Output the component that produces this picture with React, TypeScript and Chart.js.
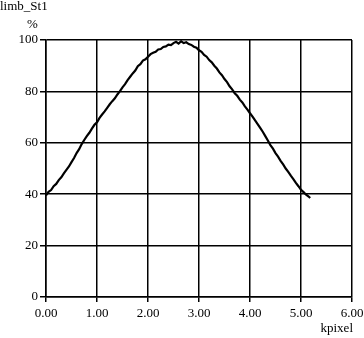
import React, { useEffect, useRef } from "react";
import { Chart, registerables } from "chart.js";

Chart.register(...registerables);

const titleText = "limb_St1";
const yUnitText = "%";
const xUnitText = "kpixel";

const xValues = [
  0.0, 0.05, 0.1, 0.15, 0.2, 0.25, 0.3, 0.35, 0.4, 0.45,
  0.5, 0.55, 0.6, 0.65, 0.7, 0.75, 0.8, 0.85, 0.9, 0.95,
  1.0, 1.05, 1.1, 1.15, 1.2, 1.25, 1.3, 1.35, 1.4, 1.45,
  1.5, 1.55, 1.6, 1.65, 1.7, 1.75, 1.8, 1.85, 1.9, 1.95,
  2.0, 2.05, 2.1, 2.15, 2.2, 2.25, 2.3, 2.35, 2.4, 2.45,
  2.5, 2.55, 2.6, 2.65, 2.7, 2.75, 2.8, 2.85, 2.9, 2.95,
  3.0, 3.05, 3.1, 3.15, 3.2, 3.25, 3.3, 3.35, 3.4, 3.45,
  3.5, 3.55, 3.6, 3.65, 3.7, 3.75, 3.8, 3.85, 3.9, 3.95,
  4.0, 4.05, 4.1, 4.15, 4.2, 4.25, 4.3, 4.35, 4.4, 4.45,
  4.5, 4.55, 4.6, 4.65, 4.7, 4.75, 4.8, 4.85, 4.9, 4.95,
  5.0, 5.05, 5.1, 5.15, 5.18,
];

const limbValues = [
  39.5, 40.9, 41.6, 43.1, 44.0, 45.5, 46.6, 48.1, 49.5, 50.8,
  52.5, 54.1, 56.0, 57.5, 59.5, 61.1, 62.6, 63.9, 65.5, 67.0,
  68.0, 69.7, 71.0, 72.2, 73.6, 75.0, 76.2, 77.3, 78.8, 80.1,
  81.6, 82.8, 84.4, 85.7, 87.0, 88.1, 89.8, 90.6, 92.0, 92.5,
  93.5, 94.5, 95.0, 95.4, 96.3, 96.5, 97.3, 97.5, 98.2, 98.0,
  98.8, 99.3, 98.6, 99.5, 98.8, 99.1, 98.4, 98.1, 97.4, 97.0,
  96.0, 95.4, 94.2, 93.5, 92.2, 91.3, 90.0, 88.9, 87.4, 86.3,
  84.8, 83.6, 82.0, 80.8, 79.3, 78.3, 76.8, 75.7, 74.2, 72.9,
  71.5, 70.2, 68.7, 67.3, 65.8, 64.3, 62.6, 60.9, 59.1, 57.7,
  56.0, 54.6, 53.0, 51.6, 50.0, 48.7, 47.2, 45.9, 44.4, 43.1,
  41.7, 40.8, 39.8, 39.1, 38.5,
];

const xTicks = [0, 1, 2, 3, 4, 5, 6];
const yTicks = [0, 20, 40, 60, 80, 100];

const FONT = '"Liberation Serif", "Times New Roman", serif';

export default function App() {
  const ref = useRef<HTMLCanvasElement | null>(null);

  useEffect(() => {
    document.body.style.margin = "0";
    const canvas = ref.current;
    if (!canvas) return;

    const labelsPlugin = {
      id: "extraLabels",
      afterDraw(chart: any) {
        const ctx = chart.ctx;
        ctx.save();
        ctx.fillStyle = "#000";
        ctx.font = `13px ${FONT}`;
        ctx.textBaseline = "alphabetic";
        ctx.textAlign = "left";
        ctx.fillText(titleText, 0, 10);
        ctx.fillText(yUnitText, 27, 28);
        ctx.textAlign = "right";
        ctx.fillText(xUnitText, 353, 332);
        ctx.restore();
      },
    };

    const chart = new Chart(canvas, {
      type: "line",
      data: {
        datasets: [
          {
            data: xValues.map((x, i) => ({ x, y: limbValues[i] })),
            borderColor: "#000",
            borderWidth: 2.2,
            pointRadius: 0,
            tension: 0,
            fill: false,
          },
        ],
      },
      options: {
        responsive: false,
        animation: false,
        events: [],
        layout: { padding: { top: 40, right: 12, left: 0, bottom: 0 } },
        plugins: {
          legend: { display: false },
          tooltip: { enabled: false },
          title: { display: false },
        },
        scales: {
          x: {
            type: "linear",
            min: 0,
            max: 6,
            afterBuildTicks: (scale: any) => {
              scale.ticks = xTicks.map((v) => ({ value: v }));
            },
            afterFit: (scale: any) => {
              scale.height = 41;
              scale.paddingRight = 0;
              scale.paddingLeft = 0;
            },
            ticks: {
              color: "#000",
              font: { family: FONT, size: 13 },
              padding: 4,
              maxRotation: 0,
              callback: (v: any) => Number(v).toFixed(2),
            },
            grid: {
              color: "#000",
              lineWidth: 1.5,
              tickLength: 5,
              drawTicks: true,
            },
            border: { color: "#000", width: 1.5 },
          },
          y: {
            type: "linear",
            min: 0,
            max: 100,
            afterBuildTicks: (scale: any) => {
              scale.ticks = yTicks.map((v) => ({ value: v }));
            },
            afterFit: (scale: any) => {
              scale.width = 46;
              scale.paddingTop = 0;
              scale.paddingBottom = 0;
            },
            ticks: {
              color: "#000",
              font: { family: FONT, size: 13 },
              padding: 2,
            },
            grid: {
              color: "#000",
              lineWidth: 1.5,
              tickLength: 6,
              drawTicks: true,
            },
            border: { color: "#000", width: 1.5 },
          },
        },
      },
      plugins: [labelsPlugin],
    } as any);

    return () => chart.destroy();
  }, []);

  return (
    <div style={{ width: 364, height: 338, position: "relative", background: "#fff" }}>
      <canvas ref={ref} width={364} height={338} style={{ display: "block" }} />
    </div>
  );
}
